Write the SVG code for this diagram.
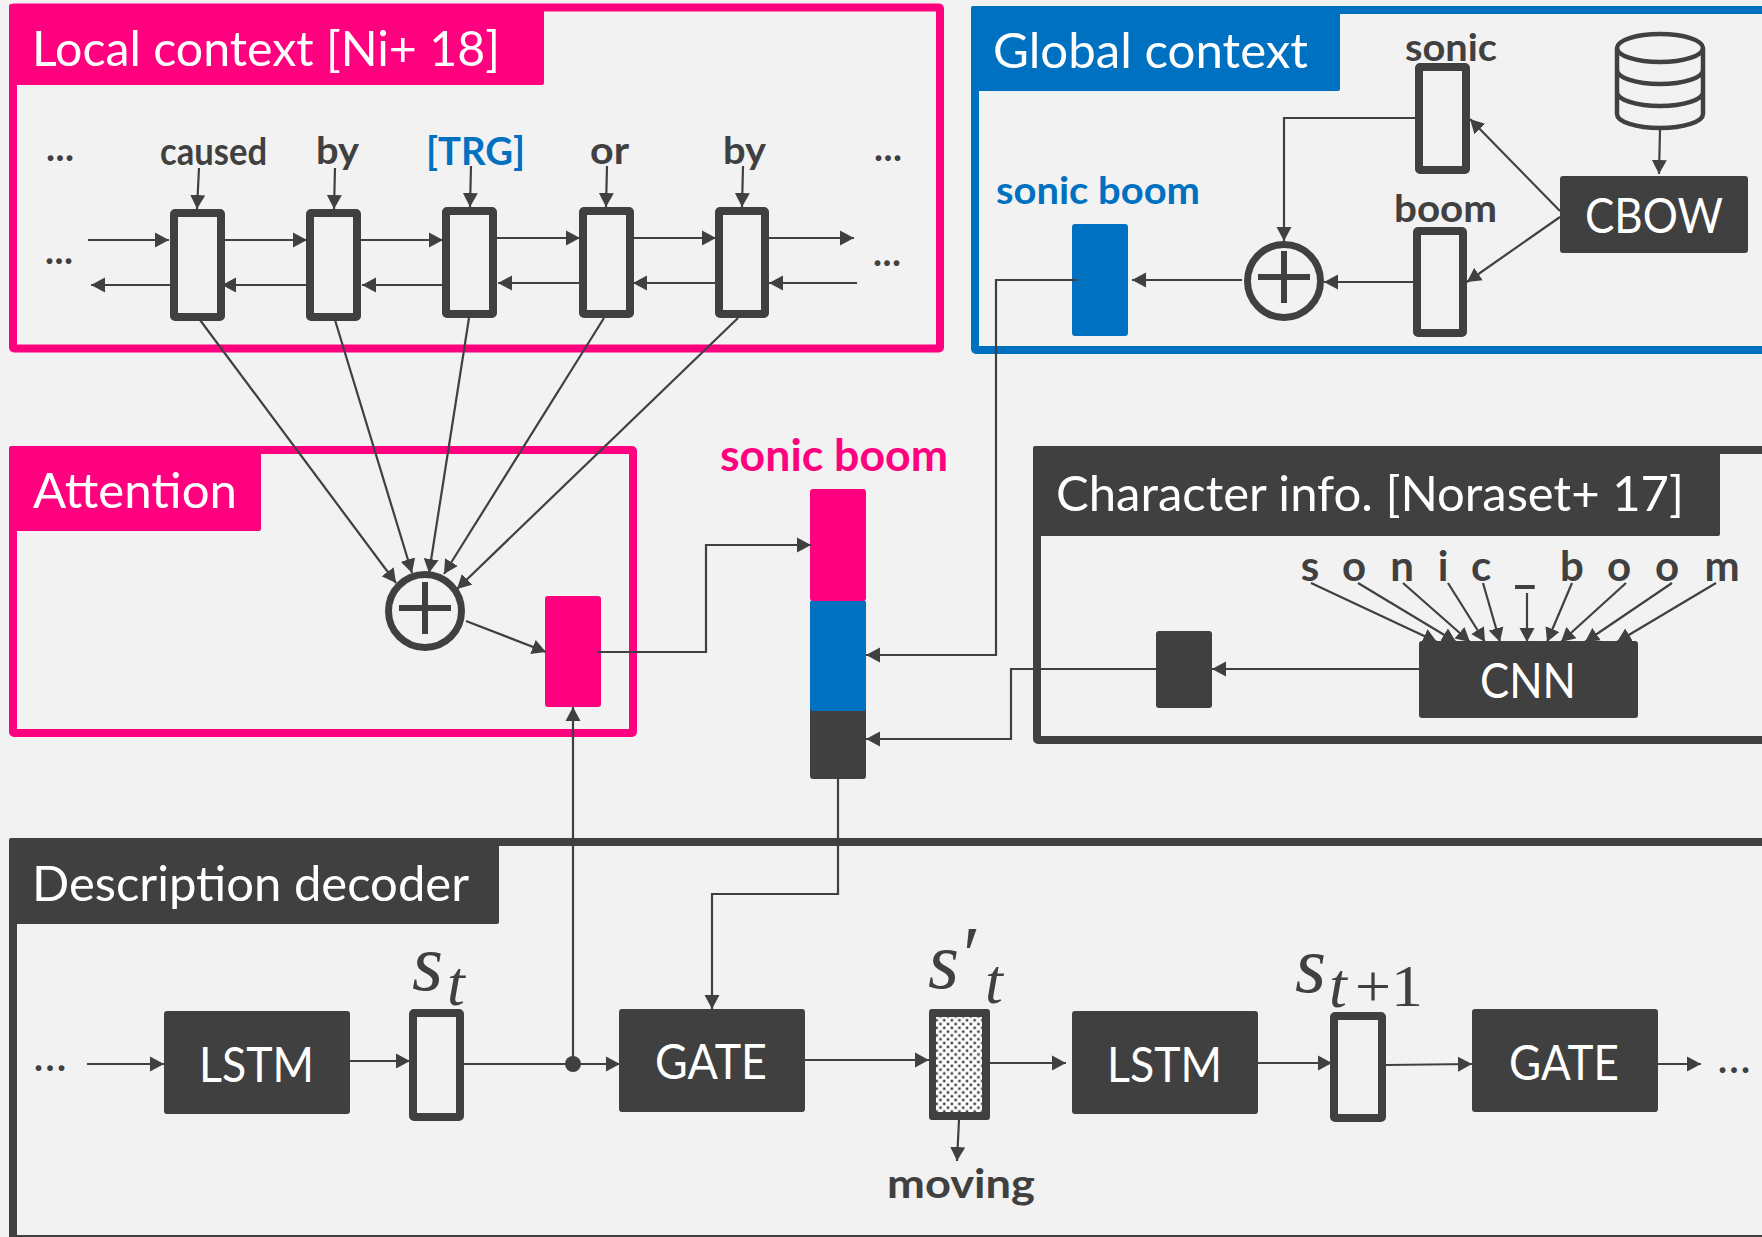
<svg xmlns="http://www.w3.org/2000/svg" width="1762" height="1237" viewBox="0 0 1762 1237">
<style>
text{font-family:Lato,"Liberation Sans",sans-serif}
.t{font-size:48px;fill:#fff}
.b{font-size:38px;font-weight:700;fill:#404040}
.d{font-size:38px;font-weight:700;fill:#404040;text-anchor:middle}
.blue{fill:#0070C0}.pink{fill:#FF007F}.dark{fill:#404040}
.fp{fill:none;stroke:#FF007F;stroke-width:8}
.fb{fill:none;stroke:#0070C0;stroke-width:8}
.fd{fill:none;stroke:#404040;stroke-width:8}
.cell{fill:#F2F2F2;stroke:#404040;stroke-width:8}
.sum{fill:none;stroke:#404040;stroke-width:7}
.m{font-family:"Liberation Serif",serif;font-style:italic;fill:#404040}
.c path{fill:none;stroke:#404040;stroke-width:2.2;marker-end:url(#a)}
</style>
<defs>
<marker id="a" markerUnits="userSpaceOnUse" markerWidth="16" markerHeight="16" refX="14" refY="8" orient="auto"><path d="M0 0.5L14 8L0 15.5Z" fill="#404040"/></marker>
<pattern id="dots" patternUnits="userSpaceOnUse" width="7.6" height="7.6"><rect width="7.6" height="7.6" fill="#fff"/><rect x="0.6" y="0.6" width="2.5" height="2.5" fill="#404040"/><rect x="4.4" y="4.4" width="2.5" height="2.5" fill="#404040"/></pattern>
</defs>
<rect width="1762" height="1237" fill="#F2F2F2"/>

<g id="local-context">
<rect class="fp" x="13" y="7.500" width="927" height="341" rx="1"/>
<rect class="pink" x="9" y="4" width="535" height="81" rx="2"/>
<text class="t" x="32" y="66" textLength="468" lengthAdjust="spacingAndGlyphs">Local context [Ni+ 18]</text>
</g>
<g id="global-context">
<rect class="fb" x="975" y="10" width="830" height="340" rx="1"/>
<rect class="blue" x="971" y="6" width="369" height="85" rx="2"/>
<text class="t" x="993" y="68" textLength="315" lengthAdjust="spacingAndGlyphs">Global context</text>
</g>
<g id="attention">
<rect class="fp" x="13" y="450" width="620" height="283" rx="1"/>
<rect class="pink" x="9" y="446" width="252" height="85" rx="2"/>
<text class="t" x="33" y="508" textLength="204" lengthAdjust="spacingAndGlyphs">Attention</text>
</g>
<g id="character-info">
<rect class="fd" x="1037" y="450" width="780" height="290" rx="1"/>
<rect class="dark" x="1033" y="446" width="687" height="90" rx="2"/>
<text class="t" x="1056" y="511" textLength="628" lengthAdjust="spacingAndGlyphs">Character info. [Noraset+ 17]</text>
</g>
<g id="description-decoder">
<rect class="fd" x="13" y="842" width="1800" height="397" rx="1"/>
<rect class="dark" x="9" y="838" width="490" height="86" rx="2"/>
<text class="t" x="32" y="901" textLength="437" lengthAdjust="spacingAndGlyphs">Description decoder</text>
</g>

<g id="local-labels">
<text class="d" x="60" y="161" textLength="28">...</text>
<text class="d" x="59" y="264" textLength="28">...</text>
<text class="d" x="888" y="161" textLength="28">...</text>
<text class="d" x="887" y="266" textLength="28">...</text>
<text class="b" x="160" y="165" textLength="107" lengthAdjust="spacingAndGlyphs">caused</text>
<text class="b" x="316" y="164" textLength="43" lengthAdjust="spacingAndGlyphs">by</text>
<text class="b" x="426" y="165" textLength="99" lengthAdjust="spacingAndGlyphs" style="fill:#0070C0">[TRG]</text>
<text class="b" x="590" y="164" textLength="39" lengthAdjust="spacingAndGlyphs">or</text>
<text class="b" x="723" y="164" textLength="43" lengthAdjust="spacingAndGlyphs">by</text>
</g>
<g id="local-cells">
<rect class="cell" x="174" y="213" width="47" height="104" rx="1"/>
<rect class="cell" x="310" y="213" width="47" height="104" rx="1"/>
<rect class="cell" x="446" y="211" width="47" height="103" rx="1"/>
<rect class="cell" x="583" y="211" width="47" height="103" rx="1"/>
<rect class="cell" x="719" y="211" width="46" height="103" rx="1"/>
</g>

<g id="global-nodes">
<text class="b" x="1405" y="61" textLength="92" lengthAdjust="spacingAndGlyphs">sonic</text>
<text class="b" x="1394" y="222" textLength="103" lengthAdjust="spacingAndGlyphs">boom</text>
<text class="b" x="996" y="204" textLength="204" lengthAdjust="spacingAndGlyphs" style="fill:#0070C0">sonic boom</text>
<rect class="cell" x="1419" y="67" width="47" height="103" rx="1"/>
<rect class="cell" x="1417" y="231" width="46" height="102" rx="1"/>
<rect class="blue" x="1072" y="224" width="56" height="112" rx="3"/>
<g id="global-sum"><circle class="sum" cx="1284" cy="281" r="36.500"/><path d="M1258 277H1310M1284 251V303" stroke="#404040" stroke-width="6" fill="none"/></g>
<g id="cbow"><rect class="dark" x="1560" y="176" width="188" height="77" rx="3"/><text class="t" x="1585" y="233" textLength="138" lengthAdjust="spacingAndGlyphs">CBOW</text></g>
<g id="database"><path d="M1617 48V114A43 14 0 0 0 1703 114V48M1617 70A43 14 0 0 0 1703 70M1617 92A43 14 0 0 0 1703 92" fill="none" stroke="#404040" stroke-width="4.500"/><ellipse cx="1660" cy="48" rx="43" ry="14" fill="none" stroke="#404040" stroke-width="4.500"/></g>
</g>

<g id="attention-nodes">
<g id="attention-sum"><circle class="sum" cx="425" cy="611" r="36.500"/><path d="M399 608H451M425 582V634" stroke="#404040" stroke-width="6" fill="none"/></g>
<rect class="pink" x="545" y="596" width="56" height="111" rx="3"/>
</g>

<g id="concat-stack">
<text class="b" x="720" y="471" textLength="228" lengthAdjust="spacingAndGlyphs" style="fill:#FF007F;font-size:43px">sonic boom</text>
<rect class="dark" x="810" y="700" width="56" height="79" rx="3"/>
<rect class="blue" x="810" y="600" width="56" height="111" rx="3"/>
<rect class="pink" x="810" y="489" width="56" height="112" rx="3"/>
</g>

<g id="character-nodes">
<g class="b" style="font-size:42px;text-anchor:middle">
<text x="1310" y="581">s</text><text x="1354" y="581">o</text><text x="1402" y="581">n</text><text x="1443" y="581">i</text><text x="1481" y="581">c</text><text x="1525" y="582" style="font-size:50px">_</text><text x="1572" y="581">b</text><text x="1619" y="581">o</text><text x="1667" y="581">o</text><text x="1722" y="581">m</text>
</g>
<rect class="dark" x="1156" y="631" width="56" height="77" rx="3"/>
<g id="cnn"><rect class="dark" x="1419" y="641" width="219" height="77" rx="3"/><text class="t" x="1480" y="698" textLength="96" lengthAdjust="spacingAndGlyphs">CNN</text></g>
</g>

<g id="decoder-nodes">
<text class="d" x="50" y="1071" textLength="32">...</text>
<text class="d" x="1734" y="1073" textLength="32">...</text>
<g id="lstm1"><rect class="dark" x="164" y="1011" width="186" height="103" rx="3"/><text class="t" x="199" y="1082" textLength="115" lengthAdjust="spacingAndGlyphs">LSTM</text></g>
<g id="st"><rect class="cell" x="413" y="1013" width="47" height="104" rx="1"/><text class="m" x="412" y="990" font-size="80">s</text><text class="m" x="447" y="1005" font-size="64">t</text></g>
<g id="gate1"><rect class="dark" x="619" y="1009" width="186" height="103" rx="3"/><text class="t" x="655" y="1079" textLength="112" lengthAdjust="spacingAndGlyphs">GATE</text></g>
<g id="stp"><rect class="dark" x="929" y="1009" width="61" height="111" rx="3"/><rect x="936" y="1017" width="46" height="95" fill="url(#dots)"/><text class="m" x="928" y="988" font-size="80">s</text><text class="m" x="958" y="982" font-size="80">′</text><text class="m" x="985" y="1003" font-size="64">t</text></g>
<g id="lstm2"><rect class="dark" x="1072" y="1011" width="186" height="103" rx="3"/><text class="t" x="1107" y="1082" textLength="115" lengthAdjust="spacingAndGlyphs">LSTM</text></g>
<g id="st1"><rect class="cell" x="1334" y="1016" width="48" height="102" rx="1"/><text class="m" x="1295" y="992" font-size="80">s</text><text class="m" x="1329" y="1007" font-size="64">t</text><text x="1355" y="1006" font-size="60" fill="#404040" style="font-family:'Liberation Serif',serif" textLength="68" lengthAdjust="spacingAndGlyphs">+1</text></g>
<g id="gate2"><rect class="dark" x="1472" y="1009" width="186" height="103" rx="3"/><text class="t" x="1509" y="1080" textLength="110" lengthAdjust="spacingAndGlyphs">GATE</text></g>
<text class="b" x="887" y="1198" textLength="148" lengthAdjust="spacingAndGlyphs" style="font-size:41px">moving</text>
<ellipse cx="573" cy="1064" rx="8" ry="8" fill="#404040"/>
</g>

<g id="connectors" class="c">
<path d="M199 168L197 209"/><path d="M335 168L334 209"/><path d="M471 166L470 207"/><path d="M607 166L606 207"/><path d="M743 166L742 207"/>
<path d="M88 240H169"/><path d="M224 240H307"/><path d="M361 240H443"/><path d="M497 238H580"/><path d="M633 238H716"/><path d="M769 238H854"/>
<path d="M170 285H91"/><path d="M306 285H222"/><path d="M442 285H362"/><path d="M579 283H498"/><path d="M715 283H633"/><path d="M857 283H769"/>
<path d="M200 320L396 583"/><path d="M335 320L412 573"/><path d="M469 318L429 573"/><path d="M604 318L444 574"/><path d="M738 318L457 589"/>
<path d="M466 621L546 652"/>
<path d="M597 652H706V545H811"/>
<path d="M1415 118H1284V241"/><path d="M1413 282H1324"/><path d="M1242 280H1132"/>
<path d="M1560 211L1470 119"/><path d="M1560 217L1467 282"/><path d="M1660 130L1659 174"/>
<path d="M1077 280H996V655H866"/>
<path d="M1419 669H1212"/><path d="M1156 669H1011V739H866"/>
<path d="M1311 583L1437 642"/><path d="M1358 583L1456 642"/><path d="M1403 583L1470 642"/><path d="M1448 583L1485 642"/><path d="M1483 583L1500 642"/><path d="M1527 593V642"/><path d="M1572 583L1547 642"/><path d="M1626 583L1561 642"/><path d="M1672 583L1585 642"/><path d="M1716 583L1617 642"/>
<path d="M838 779V894H712V1009"/>
<path d="M573 1064V707"/>
<path d="M87 1064H164"/><path d="M350 1061H410"/><path d="M464 1064H620"/><path d="M805 1060H929"/><path d="M990 1063H1066"/><path d="M1258 1063H1332"/><path d="M1386 1065L1472 1064"/><path d="M1658 1064H1701"/><path d="M959 1120L957 1161"/>
</g>
</svg>
